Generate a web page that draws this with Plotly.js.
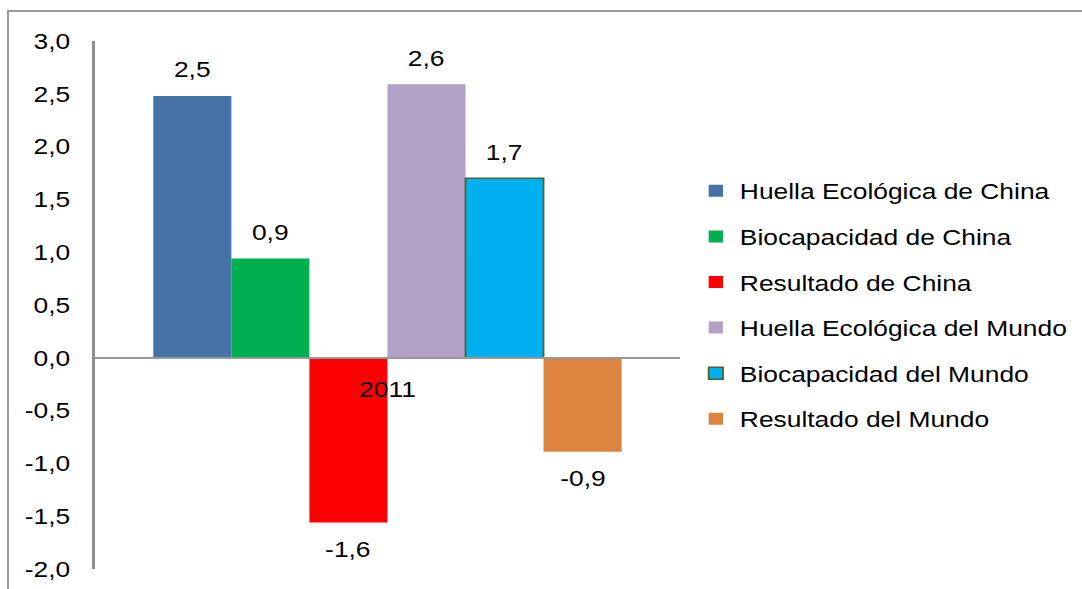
<!DOCTYPE html>
<html>
<head>
<meta charset="utf-8">
<script src="https://cdn.plot.ly/plotly-3.0.1.min.js"></script>
<style>
  html, body { margin: 0; padding: 0; background: #ffffff; overflow: hidden; }
  #wrap { position: relative; width: 1082px; height: 589px; overflow: hidden; }
  #frame { position: absolute; left: 7px; top: 10px; width: 1200px; height: 700px;
           border-left: 2px solid #9a9a9a; border-top: 2px solid #9a9a9a; pointer-events: none; }
  #chart { position: absolute; left: 0; top: 0; width: 902px; height: 589px;
           transform: scaleX(1.19956); transform-origin: 0 0; }
</style>
</head>
<body>
<div id="wrap">
  <div id="chart"></div>
  <div id="frame"></div>
</div>
<script>
// ---- data ----
const categories = ["2011"];
const seriesNames = [
  "Huella Ecológica de China",
  "Biocapacidad de China",
  "Resultado de China",
  "Huella Ecológica del Mundo",
  "Biocapacidad del Mundo",
  "Resultado del Mundo"
];
const seriesValues = [2.48, 0.94, -1.56, 2.59, 1.70, -0.89];
const seriesColors = ["#4572A7", "#00B050", "#FF0000", "#B2A1C7", "#00B0F0", "#DC843F"];
const seriesLineColors = [null, null, null, null, "#4F6228", null];
const yTickValues = [3, 2.5, 2, 1.5, 1, 0.5, 0, -0.5, -1, -1.5, -2];
const yTickLabels = ["3,0", "2,5", "2,0", "1,5", "1,0", "0,5", "0,0", "-0,5", "-1,0", "-1,5", "-2,0"];

// ---- chart ----
const FONT = "Liberation Sans, Arial, sans-serif";
const yMin = -2, yMax = 3;
const barGap = 0.2;
const n = seriesValues.length;
const slot = (1 - barGap) / n;

const traces = seriesValues.map((v, i) => ({
  type: "bar",
  name: seriesNames[i],
  legendgroup: "g" + i,
  x: categories,
  y: [v],
  marker: {
    color: seriesColors[i],
    line: { color: seriesLineColors[i] || seriesColors[i], width: seriesLineColors[i] ? 1.5 : 0 }
  },
  hoverinfo: "none"
}));

const fmt = v => v.toFixed(1).replace(".", ",");
const annotations = seriesValues.map((v, i) => ({
  xref: "x", yref: "y",
  x: -(1 - barGap) / 2 + (i + 0.5) * slot,
  y: v,
  text: fmt(v),
  showarrow: false,
  yanchor: "middle",
  xanchor: "center",
  yshift: v >= 0 ? 26 : -27,
  font: { family: FONT, size: 22, color: "#000000" }
}));

const layout = {
  width: 902,
  height: 589,
  margin: { l: 79, r: 335, t: 41, b: 20, pad: 0, autoexpand: false },
  paper_bgcolor: "rgba(0,0,0,0)",
  plot_bgcolor: "rgba(0,0,0,0)",
  barmode: "group",
  bargap: barGap,
  bargroupgap: 0,
  separators: ",.",
  font: { family: FONT, size: 22, color: "#000000" },
  showlegend: true,
  legend: {
    x: 1.02, xanchor: "left",
    y: 0.5, yanchor: "middle",
    traceorder: "grouped",
    tracegroupgap: 14,
    font: { family: FONT, size: 22, color: "#000000" },
    bgcolor: "rgba(0,0,0,0)",
    itemclick: false
  },
  xaxis: {
    type: "category",
    anchor: "free",
    position: (0 - yMin) / (yMax - yMin),
    showline: true,
    linecolor: "#999999",
    linewidth: 2,
    ticks: "",
    showgrid: false,
    zeroline: false,
    ticklabelstandoff: 12,
    tickfont: { family: FONT, size: 22, color: "#000000" },
    fixedrange: true
  },
  yaxis: {
    range: [yMin, yMax],
    tickvals: yTickValues,
    ticktext: yTickLabels,
    showline: true,
    linecolor: "#8f8f8f",
    linewidth: 2,
    ticks: "",
    showgrid: false,
    zeroline: false,
    ticklabelstandoff: 14,
    tickfont: { family: FONT, size: 22, color: "#000000" },
    fixedrange: true
  },
  annotations: annotations
};

Plotly.newPlot("chart", traces, layout, { displayModeBar: false, staticPlot: true });
</script>
</body>
</html>
